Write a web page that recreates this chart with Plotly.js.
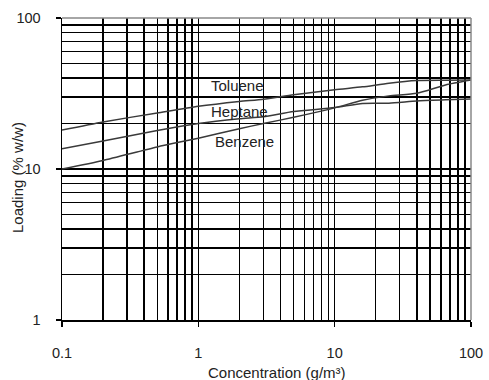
<!DOCTYPE html>
<html><head><meta charset="utf-8">
<script src="https://cdn.plot.ly/plotly-3.0.1.min.js"></script>
<style>html,body{margin:0;padding:0;background:#fff}#chart{width:489px;height:380px}</style>
</head><body><div id="chart"></div>
<script>
const conc = [0.1, 0.2, 0.5, 1, 2, 3, 5, 10, 16, 25, 40, 65, 100];
const toluene = [18.1, 20.5, 23.5, 26, 28, 29, 31, 33.5, 35, 37, 38.5, 38.7, 38.8];
const heptane = [13.6, 15.3, 18, 20, 21.5, 22.2, 24, 25.5, 27.2, 27.3, 28.2, 28.7, 29.1];
const benzene = [10, 11.4, 14, 16, 18.5, 20, 22, 25.4, 28.5, 30.5, 31.7, 36, 38.8];
const seriesNames = ['Toluene', 'Heptane', 'Benzene'];
const xTickVals = [0.1, 1, 10, 100];
const xTickText = ['0.1', '1', '10', '100'];
const yTickVals = [1, 10, 100];
const yTickText = ['1', '10', '100'];

const lineStyle = {color: '#3a3a3a', width: 1.5};
const traces = [toluene, heptane, benzene].map((ys, i) => ({
  x: conc, y: ys, type: 'scatter', mode: 'lines', name: seriesNames[i],
  line: Object.assign({}, lineStyle, {shape: 'spline', smoothing: 0.6}), showlegend: false
}));

const font = {family: 'Liberation Sans, Arial, sans-serif', size: 15, color: '#222'};
const tickFont = {family: 'Liberation Sans, Arial, sans-serif', size: 14.5, color: '#222'};
const layout = {
  width: 489, height: 380,
  margin: {l: 62, r: 18, t: 18, b: 60},
  paper_bgcolor: '#fff', plot_bgcolor: '#fff',
  font: font,
  showlegend: false,
  xaxis: {
    type: 'log', range: [-1, 2],
    tickvals: xTickVals, ticktext: xTickText,
    ticks: 'outside', ticklen: 5, tickcolor: '#000', tickwidth: 1.5,
    ticklabelstandoff: 14,
    showline: true, linecolor: '#000', linewidth: 1.5,
    showgrid: true, gridcolor: '#000', gridwidth: 1.5,
    minor: {dtick: 'D1', showgrid: true, gridcolor: '#000', gridwidth: 1.5, ticks: ''},
    zeroline: false, tickfont: tickFont
  },
  yaxis: {
    type: 'log', range: [0, 2],
    tickvals: yTickVals, ticktext: yTickText,
    ticks: 'outside', ticklen: 5, tickcolor: '#000', tickwidth: 1.5,
    ticklabelstandoff: 12,
    showline: true, linecolor: '#000', linewidth: 1.5,
    showgrid: true, gridcolor: '#000', gridwidth: 1.5,
    minor: {dtick: 'D1', showgrid: true, gridcolor: '#000', gridwidth: 1.5, ticks: ''},
    zeroline: false, tickfont: tickFont
  },
  shapes: [
    {type: 'line', xref: 'paper', yref: 'paper', x0: 0, x1: 1, y0: 1, y1: 1, line: {color: '#888', width: 1.5}},
    {type: 'line', xref: 'paper', yref: 'paper', x0: 1, x1: 1, y0: 0, y1: 1, line: {color: '#888', width: 1.5}}
  ],
  annotations: [
    {text: seriesNames[0], x: 0.077, y: 1.55, xref: 'x', yref: 'y', xanchor: 'left', yanchor: 'middle', showarrow: false, font: font},
    {text: seriesNames[1], x: 0.077, y: 1.384, xref: 'x', yref: 'y', xanchor: 'left', yanchor: 'middle', showarrow: false, font: font},
    {text: seriesNames[2], x: 0.106, y: 1.185, xref: 'x', yref: 'y', xanchor: 'left', yanchor: 'middle', showarrow: false, font: font},
    {text: 'Concentration (g/m³)', xref: 'paper', yref: 'paper', x: (277 - 62) / 409, y: -(372 - 320) / 302, xanchor: 'center', yanchor: 'middle', showarrow: false, font: font},
    {text: 'Loading (% w/w)', xref: 'paper', yref: 'paper', x: -(62 - 17) / 409, y: (320 - 178) / 302, xanchor: 'center', yanchor: 'middle', textangle: -90, showarrow: false, font: font}
  ]
};
Plotly.newPlot('chart', traces, layout, {displayModeBar: false, staticPlot: true});
</script>
</body></html>
